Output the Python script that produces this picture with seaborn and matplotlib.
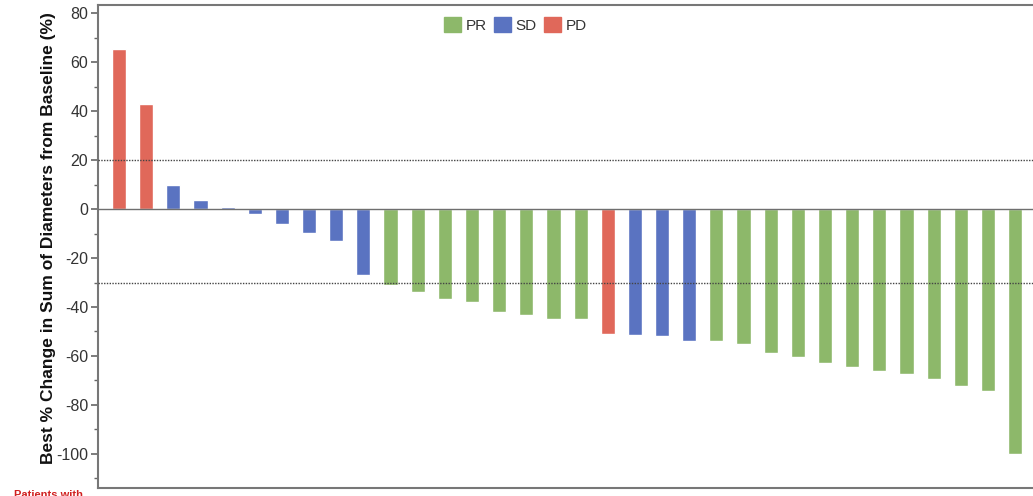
import matplotlib
matplotlib.use("Agg")
import matplotlib.pyplot as plt
import seaborn as sns
import pandas as pd
from matplotlib.patches import Patch
from matplotlib.ticker import MultipleLocator

# ---- data ----
patients = [f"P{i+1:02d}" for i in range(34)]
best_change = [65.2, 42.9, 9.7, 3.8, 1.0, -2.2, -6.0, -9.7, -13.0, -27.0,
               -31.0, -34.0, -36.7, -38.0, -42.0, -43.3, -45.0, -45.0,
               -51.0, -51.6, -51.7, -53.9,
               -53.7, -55.1, -58.9, -60.4, -62.9, -64.4, -66.1, -67.5,
               -69.4, -72.2, -74.3, -100.0]
response = ["PD", "PD", "SD", "SD", "SD", "SD", "SD", "SD", "SD", "SD",
            "PR", "PR", "PR", "PR", "PR", "PR", "PR", "PR",
            "PD", "SD", "SD", "SD",
            "PR", "PR", "PR", "PR", "PR", "PR", "PR", "PR",
            "PR", "PR", "PR", "PR"]
legend_order = ["PR", "SD", "PD"]
colors = {"PR": "#8db86a", "SD": "#5a73c1", "PD": "#e0685a"}
threshold_lines = [20, -30]

df = pd.DataFrame({"patient": patients, "change": best_change, "response": response})

sns.set_theme(style="white")
plt.rcParams["font.family"] = ["Liberation Sans", "DejaVu Sans"]
plt.rcParams["axes.unicode_minus"] = False

fig = plt.figure(figsize=(10.33, 4.96), dpi=100)
ax = fig.add_axes([98 / 1033, 1 - 488 / 496, 1 - 98 / 1033, (488 - 5) / 496])

sns.barplot(data=df, x="patient", y="change", hue="response", order=patients,
            hue_order=legend_order, palette=colors, dodge=False, width=0.52,
            saturation=1, legend=False, ax=ax, zorder=2)

ax.set_xlim(-0.773, 33.66)
ax.set_ylim(-113.9, 83.3)
ax.axhline(0, color="#6f6f6f", lw=1.0, zorder=3)
for yv in threshold_lines:
    ax.axhline(yv, color="#444444", lw=1.0, ls=(0, (1, 1)), zorder=3)

ax.yaxis.set_major_locator(MultipleLocator(20))
ax.yaxis.set_minor_locator(MultipleLocator(10))
ax.tick_params(axis="y", which="major", left=True, length=5, width=1.2,
               color="#666666", labelsize=11.5, labelcolor="#333333", pad=2)
ax.tick_params(axis="y", which="minor", left=True, length=3, width=1.0, color="#666666")
ax.tick_params(axis="x", bottom=False, labelbottom=False)
ax.set_xlabel("")
ax.set_ylabel("Best % Change in Sum of Diameters from Baseline (%)",
              fontsize=12.5, fontweight="bold", color="#111111")
ax.yaxis.set_label_coords(-0.045, 0.518)

for side in ["left", "top", "bottom"]:
    ax.spines[side].set_color("#777777")
    ax.spines[side].set_linewidth(1.5)
ax.spines["right"].set_visible(False)

handles = [Patch(facecolor=colors[k], edgecolor=colors[k]) for k in legend_order]
fig.legend(handles, legend_order, loc="center", bbox_to_anchor=(0.499, 0.95),
           ncol=3, frameon=False, fontsize=11, handlelength=1.1, handleheight=1.1,
           handletextpad=0.3, columnspacing=0.5, labelcolor="#333333")

fig.text(0.014, 1 - 490 / 496, "Patients with", color="#d02020", fontsize=8,
         fontweight="bold", va="top", ha="left")

fig.savefig("out.png", dpi=100)
